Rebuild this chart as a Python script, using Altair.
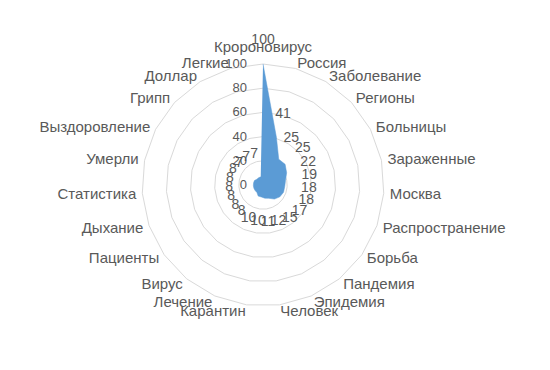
import math
import altair as alt
import pandas as pd

# Word frequencies, clockwise from the top
categories = [
    "Кророновирус", "Россия", "Заболевание", "Регионы", "Больницы",
    "Зараженные", "Москва", "Распространение", "Борьба", "Пандемия",
    "Эпидемия", "Человек", "Карантин", "Лечение", "Вирус", "Пациенты",
    "Дыхание", "Статистика", "Умерли", "Выздоровление", "Грипп",
    "Доллар", "Легкие",
]
values = [100, 41, 25, 25, 22, 19, 18, 18, 17, 15, 12, 11, 10, 10,
          8, 8, 8, 8, 8, 8, 7, 7, 7]
ring_levels = [20, 40, 60, 80, 100]
tick_values = [0, 20, 40, 60, 80, 100]

N = len(categories)
STEP = 2 * math.pi / N

TEXT = "#595959"
GRID = "#d9d9d9"
FILL = "#5b9bd5"
FONT = "Liberation Sans"

points = pd.DataFrame({"i": list(range(N)), "cat": categories, "v": values})
rings = pd.DataFrame(
    [{"lvl": lvl, "i": k} for lvl in ring_levels for k in range(N + 1)]
)
ticks = pd.DataFrame({"t": tick_values})

# Polar-to-cartesian frame: value 100 sits ~121 px from the centre
xs = alt.Scale(domain=[-217.4, 237.2], nice=False, zero=False)
ys = alt.Scale(domain=[-152.9, 152.9], nice=False, zero=False)


def polar(r_expr, prefix):
    ang = f"datum.i * {STEP}"
    return {
        f"{prefix}x": f"({r_expr}) * sin({ang})",
        f"{prefix}y": f"({r_expr}) * cos({ang})",
    }


def X(field):
    return alt.X(f"{field}:Q", scale=xs, axis=None)


def Y(field):
    return alt.Y(f"{field}:Q", scale=ys, axis=None)


grid = (
    alt.Chart(rings)
    .transform_calculate(**polar("datum.lvl", "g"))
    .mark_line(color=GRID, strokeWidth=1)
    .encode(x=X("gx"), y=Y("gy"), detail="lvl:N", order="i:Q")
)

area = (
    alt.Chart(points)
    .transform_calculate(**polar("datum.v", "p"))
    .mark_line(fill=FILL, stroke=FILL, strokeWidth=0.5)
    .encode(x=X("px"), y=Y("py"), order="i:Q")
)

tick_text = (
    alt.Chart(ticks)
    .transform_calculate(tx="0")
    .mark_text(align="right", baseline="middle", dx=-16, font=FONT,
               fontSize=13, color=TEXT)
    .encode(x=X("tx"), y=Y("t"), text="t:Q")
)

value_text = (
    alt.Chart(points)
    .transform_calculate(**polar("datum.v + 20", "l"))
    .mark_text(align="center", baseline="middle", font=FONT, fontSize=14,
               color=TEXT)
    .encode(x=X("lx"), y=Y("ly"), text="v:Q")
)


def cat_layer(filter_expr, align, baseline, dy=0):
    return (
        alt.Chart(points)
        .transform_calculate(**polar("105", "c"))
        .transform_calculate(s=f"sin(datum.i * {STEP})")
        .transform_filter(filter_expr)
        .mark_text(align=align, baseline=baseline, font=FONT, fontSize=15,
                   color=TEXT, dy=dy)
        .encode(x=X("cx"), y=Y("cy"), text="cat:N")
    )


cats = (
    cat_layer("datum.s > 0.01", "left", "middle")
    + cat_layer("datum.s < -0.01", "right", "middle")
    + cat_layer("abs(datum.s) <= 0.01", "center", "bottom", dy=-3)
)

chart = (
    alt.layer(grid, area, tick_text, value_text, cats)
    .properties(width=550, height=370, padding=0, autosize="none",
                background="white")
    .configure_view(stroke=None)
)

chart.save("out.html", embed_options={"renderer": "svg", "actions": False})
